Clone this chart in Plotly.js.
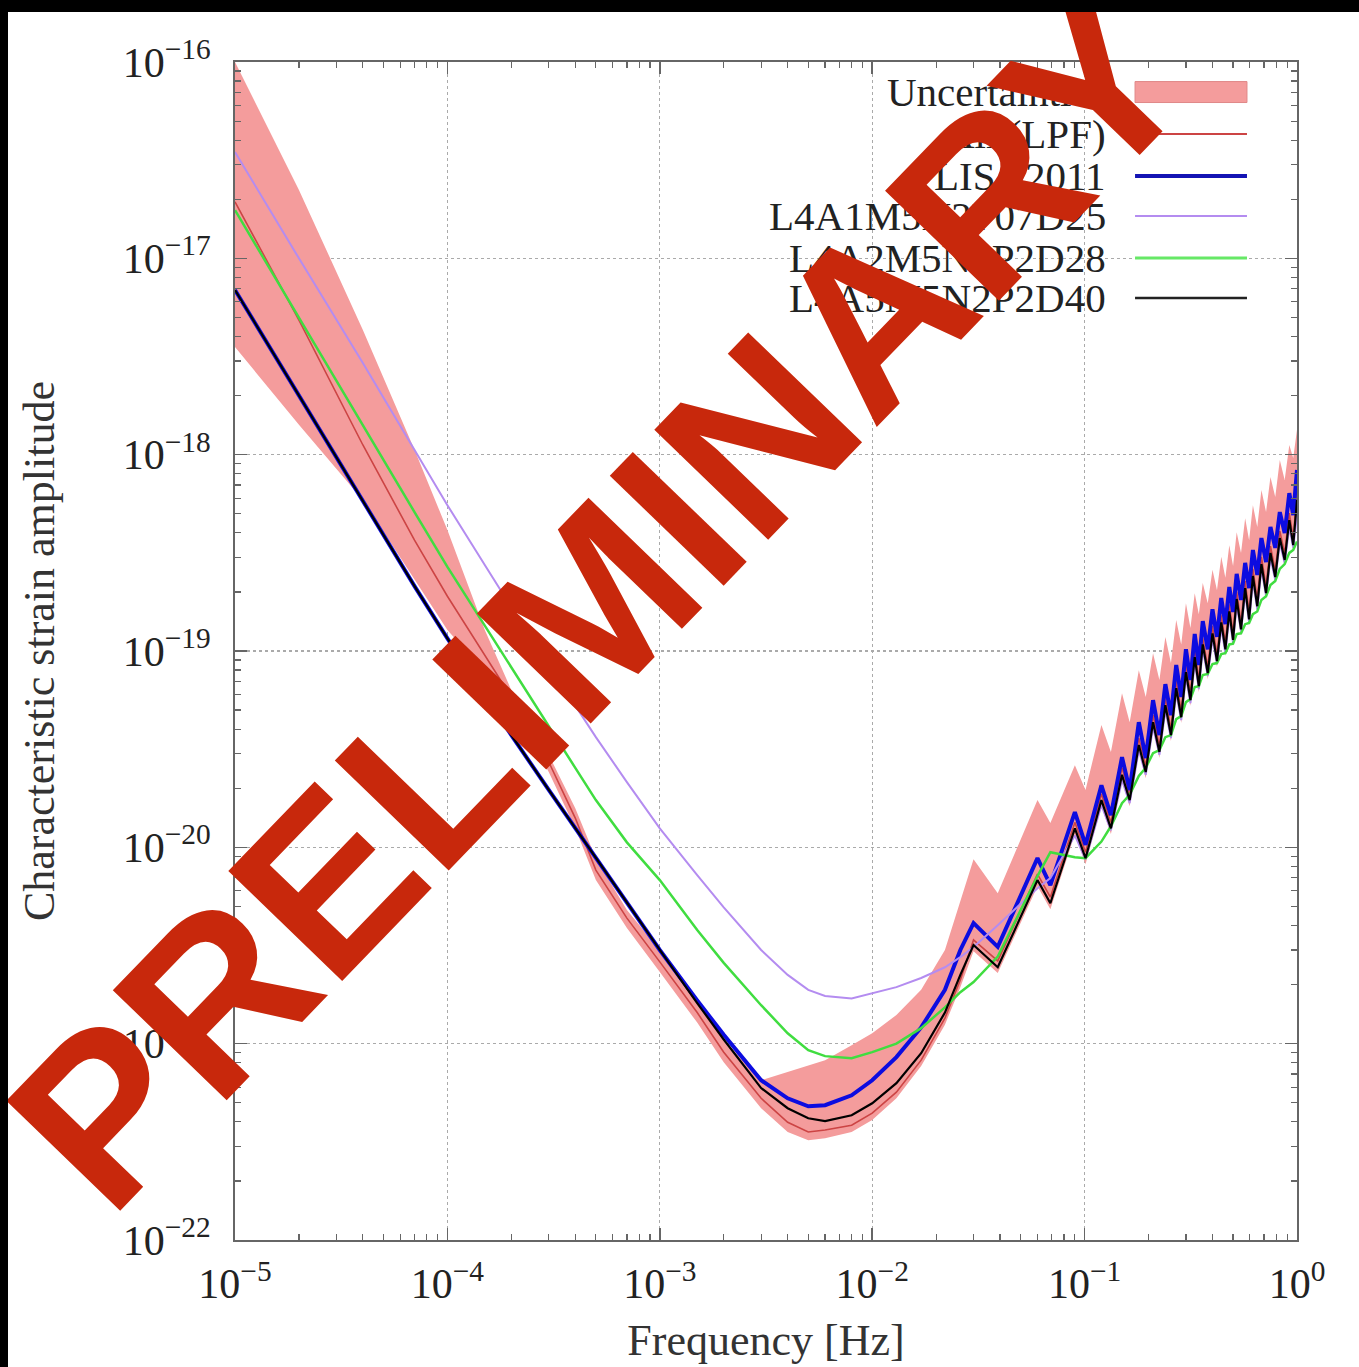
<!DOCTYPE html>
<html><head><meta charset="utf-8">
<script src="https://cdn.plot.ly/plotly-3.0.1.min.js"></script>
<style>
html,body{margin:0;padding:0;background:#000;width:1359px;height:1367px;overflow:hidden}
#chart{position:absolute;left:8px;top:12px;width:1351px;height:1355px;background:#fff}
</style></head><body><div id="chart"></div><script>
// Frequencies [Hz]
const freqHz = [1e-5,2e-5,4e-5,7e-5,1e-4,1.5e-4,2e-4,3e-4,4e-4,5e-4,7e-4,1e-3,1.5e-3,2e-3,3e-3,4e-3,5e-3,6e-3,8e-3,1e-2,1.3e-2,1.7e-2,2.2e-2,2.6e-2,
0.03,0.039,0.06,0.069,0.09,0.101,0.12,0.133,0.15,0.163,0.18,0.194,0.21,0.225,0.24,0.255,0.27,0.285,0.30,0.315,
0.33,0.345,0.36,0.38,0.40,0.42,0.44,0.46,0.48,0.50,0.52,0.545,0.57,0.595,0.62,0.65,0.68,0.715,0.75,0.79,0.83,0.875,0.92,0.96,1.0];

// Uncertainty band
const bandUpper = [1.0e-16,2.23e-17,4.32e-18,1.06e-18,4.13e-19,1.28e-19,6.32e-20,2.96e-20,1.58e-20,8.8e-21,4.79e-21,3.0e-21,1.66e-21,1.05e-21,6.51e-22,7.16e-22,7.69e-22,8.24e-22,9.83e-22,1.13e-21,1.40e-21,1.88e-21,3.0e-21,5.38e-21,
8.69e-21,5.84e-21,1.74e-20,1.33e-20,2.62e-20,1.96e-20,4.20e-20,3.06e-20,6.10e-20,4.34e-20,
7.99e-20,5.83e-20,9.75e-20,7.11e-20,1.18e-19,8.68e-20,1.44e-19,1.08e-19,1.75e-19,1.31e-19,
1.97e-19,1.54e-19,2.22e-19,1.75e-19,2.59e-19,2.04e-19,3.02e-19,2.36e-19,3.46e-19,2.71e-19,
4.03e-19,3.16e-19,4.75e-19,3.67e-19,5.53e-19,4.28e-19,6.60e-19,5.10e-19,7.70e-19,6.08e-19,
9.39e-19,7.42e-19,1.12e-18,9.61e-19,1.34e-18];
const bandLower = [3.53e-18,1.42e-18,5.87e-19,2.30e-19,1.28e-19,7.81e-20,5.30e-20,2.42e-20,1.25e-20,6.81e-21,3.88e-21,2.32e-21,1.28e-21,8.05e-22,4.69e-22,3.55e-22,3.22e-22,3.30e-22,3.55e-22,4.08e-22,5.27e-22,7.69e-22,1.25e-21,1.94e-21,
2.96e-21,2.29e-21,6.34e-21,4.84e-21,1.17e-20,8.21e-21,1.62e-20,1.17e-20,2.18e-20,1.62e-20,
3.10e-20,2.25e-20,4.05e-20,2.85e-20,4.94e-20,3.48e-20,6.03e-20,4.30e-20,7.28e-20,5.24e-20,
8.68e-20,6.17e-20,1.0e-19,7.19e-20,1.15e-19,8.28e-20,1.31e-19,9.42e-20,1.49e-19,1.06e-19,
1.71e-19,1.20e-19,1.95e-19,1.35e-19,2.25e-19,1.58e-19,2.59e-19,1.84e-19,2.94e-19,2.22e-19,
3.51e-19,2.71e-19,4.33e-19,3.22e-19,5.47e-19];

// Characteristic strain amplitude per configuration
const hAllLPF = [1.94e-17,4.84e-18,1.12e-18,3.67e-19,1.90e-19,9.53e-20,5.83e-20,2.72e-20,1.41e-20,7.66e-21,4.36e-21,2.61e-21,1.44e-21,9.05e-22,5.27e-22,3.98e-22,3.55e-22,3.63e-22,3.84e-22,4.43e-22,5.66e-22,8.24e-22,1.35e-21,2.11e-21,
3.38e-21,2.64e-21,7.30e-21,5.57e-21,1.34e-20,9.45e-21,1.87e-20,1.34e-20,2.54e-20,1.87e-20,
3.60e-20,2.60e-20,4.71e-20,3.28e-20,5.76e-20,4.00e-20,7.02e-20,4.94e-20,8.48e-20,6.03e-20,
1.02e-19,7.11e-20,1.16e-19,8.28e-20,1.34e-19,9.53e-20,1.52e-19,1.09e-19,1.73e-19,1.22e-19,
2.00e-19,1.39e-19,2.27e-19,1.56e-19,2.62e-19,1.82e-19,3.02e-19,2.12e-19,3.42e-19,2.56e-19,
4.08e-19,3.14e-19,5.04e-19,3.72e-19,6.45e-19];
const hLISA2011 = [6.9e-18,2.0e-18,5.8e-19,2.14e-19,1.16e-19,5.96e-20,3.73e-20,1.96e-20,1.25e-20,8.8e-21,5.19e-21,3.0e-21,1.66e-21,1.11e-21,6.51e-22,5.27e-22,4.80e-22,4.86e-22,5.46e-22,6.51e-22,8.54e-22,1.21e-21,1.88e-21,3.0e-21,
4.11e-21,3.11e-21,8.81e-21,6.42e-21,1.51e-20,1.03e-20,2.07e-20,1.46e-20,2.88e-20,1.96e-20,
4.34e-20,2.85e-20,5.62e-20,3.73e-20,6.78e-20,4.71e-20,8.48e-20,5.83e-20,1.02e-19,7.11e-20,
1.22e-19,8.48e-20,1.42e-19,1.02e-19,1.63e-19,1.18e-19,1.86e-19,1.37e-19,2.12e-19,1.58e-19,
2.47e-19,1.82e-19,2.81e-19,2.09e-19,3.27e-19,2.44e-19,3.76e-19,2.84e-19,4.28e-19,3.35e-19,
5.10e-19,3.99e-19,6.37e-19,4.92e-19,8.35e-19];
const hL4A1 = [3.48e-17,1.0e-17,2.93e-18,1.06e-18,5.53e-19,2.74e-19,1.67e-19,8.48e-20,5.30e-20,3.64e-20,2.15e-20,1.25e-20,7.22e-21,4.95e-21,3.0e-21,2.24e-21,1.88e-21,1.75e-21,1.70e-21,1.81e-21,1.94e-21,2.16e-21,2.45e-21,2.76e-21,
3.11e-21,4.01e-21,6.19e-21,6.97e-21,1.15e-20,8.69e-21,1.64e-20,1.22e-20,2.20e-20,1.68e-20,
3.13e-20,2.34e-20,4.10e-20,2.96e-20,4.99e-20,3.60e-20,6.10e-20,4.45e-20,7.36e-20,5.42e-20,
8.79e-20,6.40e-20,1.02e-19,7.45e-20,1.16e-19,8.58e-20,1.32e-19,9.75e-20,1.50e-19,1.10e-19,
1.73e-19,1.26e-19,1.97e-19,1.40e-19,2.27e-19,1.63e-19,2.62e-19,1.91e-19,2.98e-19,2.30e-19,
3.56e-19,2.81e-19,4.28e-19,3.35e-19,4.92e-19];
const hL4A2 = [1.76e-17,4.96e-18,1.42e-18,5.10e-19,2.68e-19,1.34e-19,8.18e-20,4.10e-20,2.54e-20,1.74e-20,1.06e-20,6.81e-21,3.79e-21,2.58e-21,1.57e-21,1.13e-21,9.26e-22,8.64e-22,8.44e-22,9.05e-22,1.00e-21,1.20e-21,1.53e-21,1.83e-21,
2.06e-21,2.78e-21,7.13e-21,9.45e-21,8.91e-21,8.8e-21,1.07e-20,1.28e-20,1.68e-20,1.85e-20,
2.31e-20,2.54e-20,3.02e-20,3.13e-20,3.64e-20,3.73e-20,4.50e-20,4.66e-20,5.49e-20,5.70e-20,
6.55e-20,6.62e-20,7.55e-20,7.64e-20,8.58e-20,8.68e-20,9.64e-20,9.75e-20,1.08e-19,1.09e-19,
1.22e-19,1.23e-19,1.37e-19,1.39e-19,1.54e-19,1.59e-19,1.82e-19,1.90e-19,2.17e-19,2.27e-19,
2.62e-19,2.77e-19,3.16e-19,3.27e-19,3.61e-19];
const hL4A5 = [6.9e-18,2.0e-18,5.8e-19,2.14e-19,1.16e-19,5.96e-20,3.73e-20,1.96e-20,1.25e-20,8.8e-21,5.19e-21,3.0e-21,1.61e-21,1.05e-21,5.94e-22,4.69e-22,4.17e-22,4.03e-22,4.32e-22,4.97e-22,6.29e-22,8.94e-22,1.44e-21,2.24e-21,
3.18e-21,2.45e-21,6.81e-21,5.19e-21,1.25e-20,8.8e-21,1.74e-20,1.25e-20,2.34e-20,1.74e-20,
3.32e-20,2.42e-20,4.34e-20,3.06e-20,5.30e-20,3.73e-20,6.47e-20,4.60e-20,7.81e-20,5.62e-20,
9.31e-20,6.62e-20,1.08e-19,7.72e-20,1.23e-19,8.88e-20,1.40e-19,1.02e-19,1.59e-19,1.14e-19,
1.84e-19,1.29e-19,2.09e-19,1.45e-19,2.41e-19,1.69e-19,2.77e-19,1.97e-19,3.16e-19,2.38e-19,
3.76e-19,2.91e-19,4.64e-19,3.46e-19,5.87e-19];

const seriesNames = ['Uncertainties','All (LPF)','LISA2011','L4A1M5N2P07D25','L4A2M5N2P2D28','L4A5M5N2P2D40'];
const xTickVals = [1e-5,1e-4,1e-3,1e-2,1e-1,1];
const xTickText = ['10<sup>−5</sup>','10<sup>−4</sup>','10<sup>−3</sup>','10<sup>−2</sup>','10<sup>−1</sup>','10<sup>0</sup>'];
const yTickVals = [1e-22,1e-21,1e-20,1e-19,1e-18,1e-17,1e-16];
const yTickText = ['10<sup>−22</sup>','10<sup>−21</sup>','10<sup>−20</sup>','10<sup>−19</sup>','10<sup>−18</sup>','10<sup>−17</sup>','10<sup>−16</sup>'];

const colBand = '#f49c9c', colRed = '#cc4444', colBlue = '#0c0ce0', colPurple = '#b48cf0', colGreen = '#40dd40', colBlack = '#000000';
const serif = 'Liberation Serif, Times New Roman, serif';

const traces = [
  {x: freqHz, y: bandLower, mode: 'lines', line: {width: 0, color: 'rgba(0,0,0,0)'}, showlegend: false, hoverinfo: 'skip'},
  {x: freqHz, y: bandUpper, mode: 'lines', fill: 'tonexty', fillcolor: colBand, line: {width: 0, color: colBand}, name: seriesNames[0]},
  {x: freqHz, y: hAllLPF, mode: 'lines', line: {color: colRed, width: 1.6}, name: seriesNames[1]},
  {x: freqHz, y: hLISA2011, mode: 'lines', line: {color: colBlue, width: 4}, name: seriesNames[2]},
  {x: freqHz, y: hL4A1, mode: 'lines', line: {color: colPurple, width: 2}, name: seriesNames[3]},
  {x: freqHz, y: hL4A2, mode: 'lines', line: {color: colGreen, width: 2.5}, name: seriesNames[4]},
  {x: freqHz, y: hL4A5, mode: 'lines', line: {color: colBlack, width: 2.2}, name: seriesNames[5]}
];

// legend (gnuplot style: text on the left, sample on the right)
const legX0 = 0.8475, legX1 = 0.9529, legTextX = 0.822;
const legY = [0.9745, 0.9389, 0.9032, 0.8693, 0.8336, 0.7997];
const legLine = [null, {c: colRed, w: 2}, {c: '#1414b4', w: 4}, {c: colPurple, w: 2}, {c: '#66e866', w: 3}, {c: '#222', w: 2.5}];
const shapes = [];
const annotations = [];
seriesNames.forEach((n, i) => {
  annotations.push({xref: 'paper', yref: 'paper', x: legTextX, y: legY[i], xanchor: 'right', yanchor: 'middle', showarrow: false, text: n,
    font: {family: serif, size: 41, color: '#222'}});
  if (i === 0) {
    shapes.push({type: 'rect', xref: 'paper', yref: 'paper', x0: legX0, x1: legX1, y0: legY[0] - 0.0089, y1: legY[0] + 0.0089,
      fillcolor: colBand, line: {color: '#e08888', width: 1}});
  } else {
    shapes.push({type: 'line', xref: 'paper', yref: 'paper', x0: legX0, x1: legX1, y0: legY[i], y1: legY[i],
      line: {color: legLine[i].c, width: legLine[i].w}});
  }
});
annotations.push({xref: 'paper', yref: 'paper', x: 0.3437, y: 0.5433, xanchor: 'center', yanchor: 'middle', showarrow: false,
  text: 'PRELIMINARY', textangle: -46, font: {family: 'Liberation Sans, Arial, sans-serif', size: 230, color: '#c8280c', weight: 700}});

const axisCommon = {
  type: 'log', tickmode: 'array', ticks: 'inside', ticklen: 12, tickwidth: 1.5, tickcolor: '#666',
  showline: true, linecolor: '#666', linewidth: 2, mirror: 'allticks',
  showgrid: true, gridcolor: '#aaaaaa', griddash: 'dot', gridwidth: 1.3, zeroline: false,
  minor: {dtick: 'D1', ticks: 'inside', ticklen: 6, tickwidth: 1.2, tickcolor: '#666', showgrid: false},
  tickfont: {family: serif, size: 42, color: '#222'}
};

const layout = {
  width: 1351, height: 1355,
  margin: {l: 227, r: 62, t: 50, b: 127},
  paper_bgcolor: '#ffffff', plot_bgcolor: '#ffffff',
  showlegend: false,
  xaxis: Object.assign({}, axisCommon, {range: [-5, 0], tickvals: xTickVals, ticktext: xTickText, ticklabelstandoff: 6,
    title: {text: 'Frequency [Hz]', font: {family: serif, size: 44, color: '#333'}, standoff: 18}}),
  yaxis: Object.assign({}, axisCommon, {range: [-22, -16], tickvals: yTickVals, ticktext: yTickText, ticklabelstandoff: 14,
    title: {text: 'Characteristic strain amplitude', font: {family: serif, size: 44, color: '#333'}, standoff: 54}}),
  shapes: shapes,
  annotations: annotations
};

Plotly.newPlot('chart', traces, layout, {staticPlot: true});
</script></body></html>
